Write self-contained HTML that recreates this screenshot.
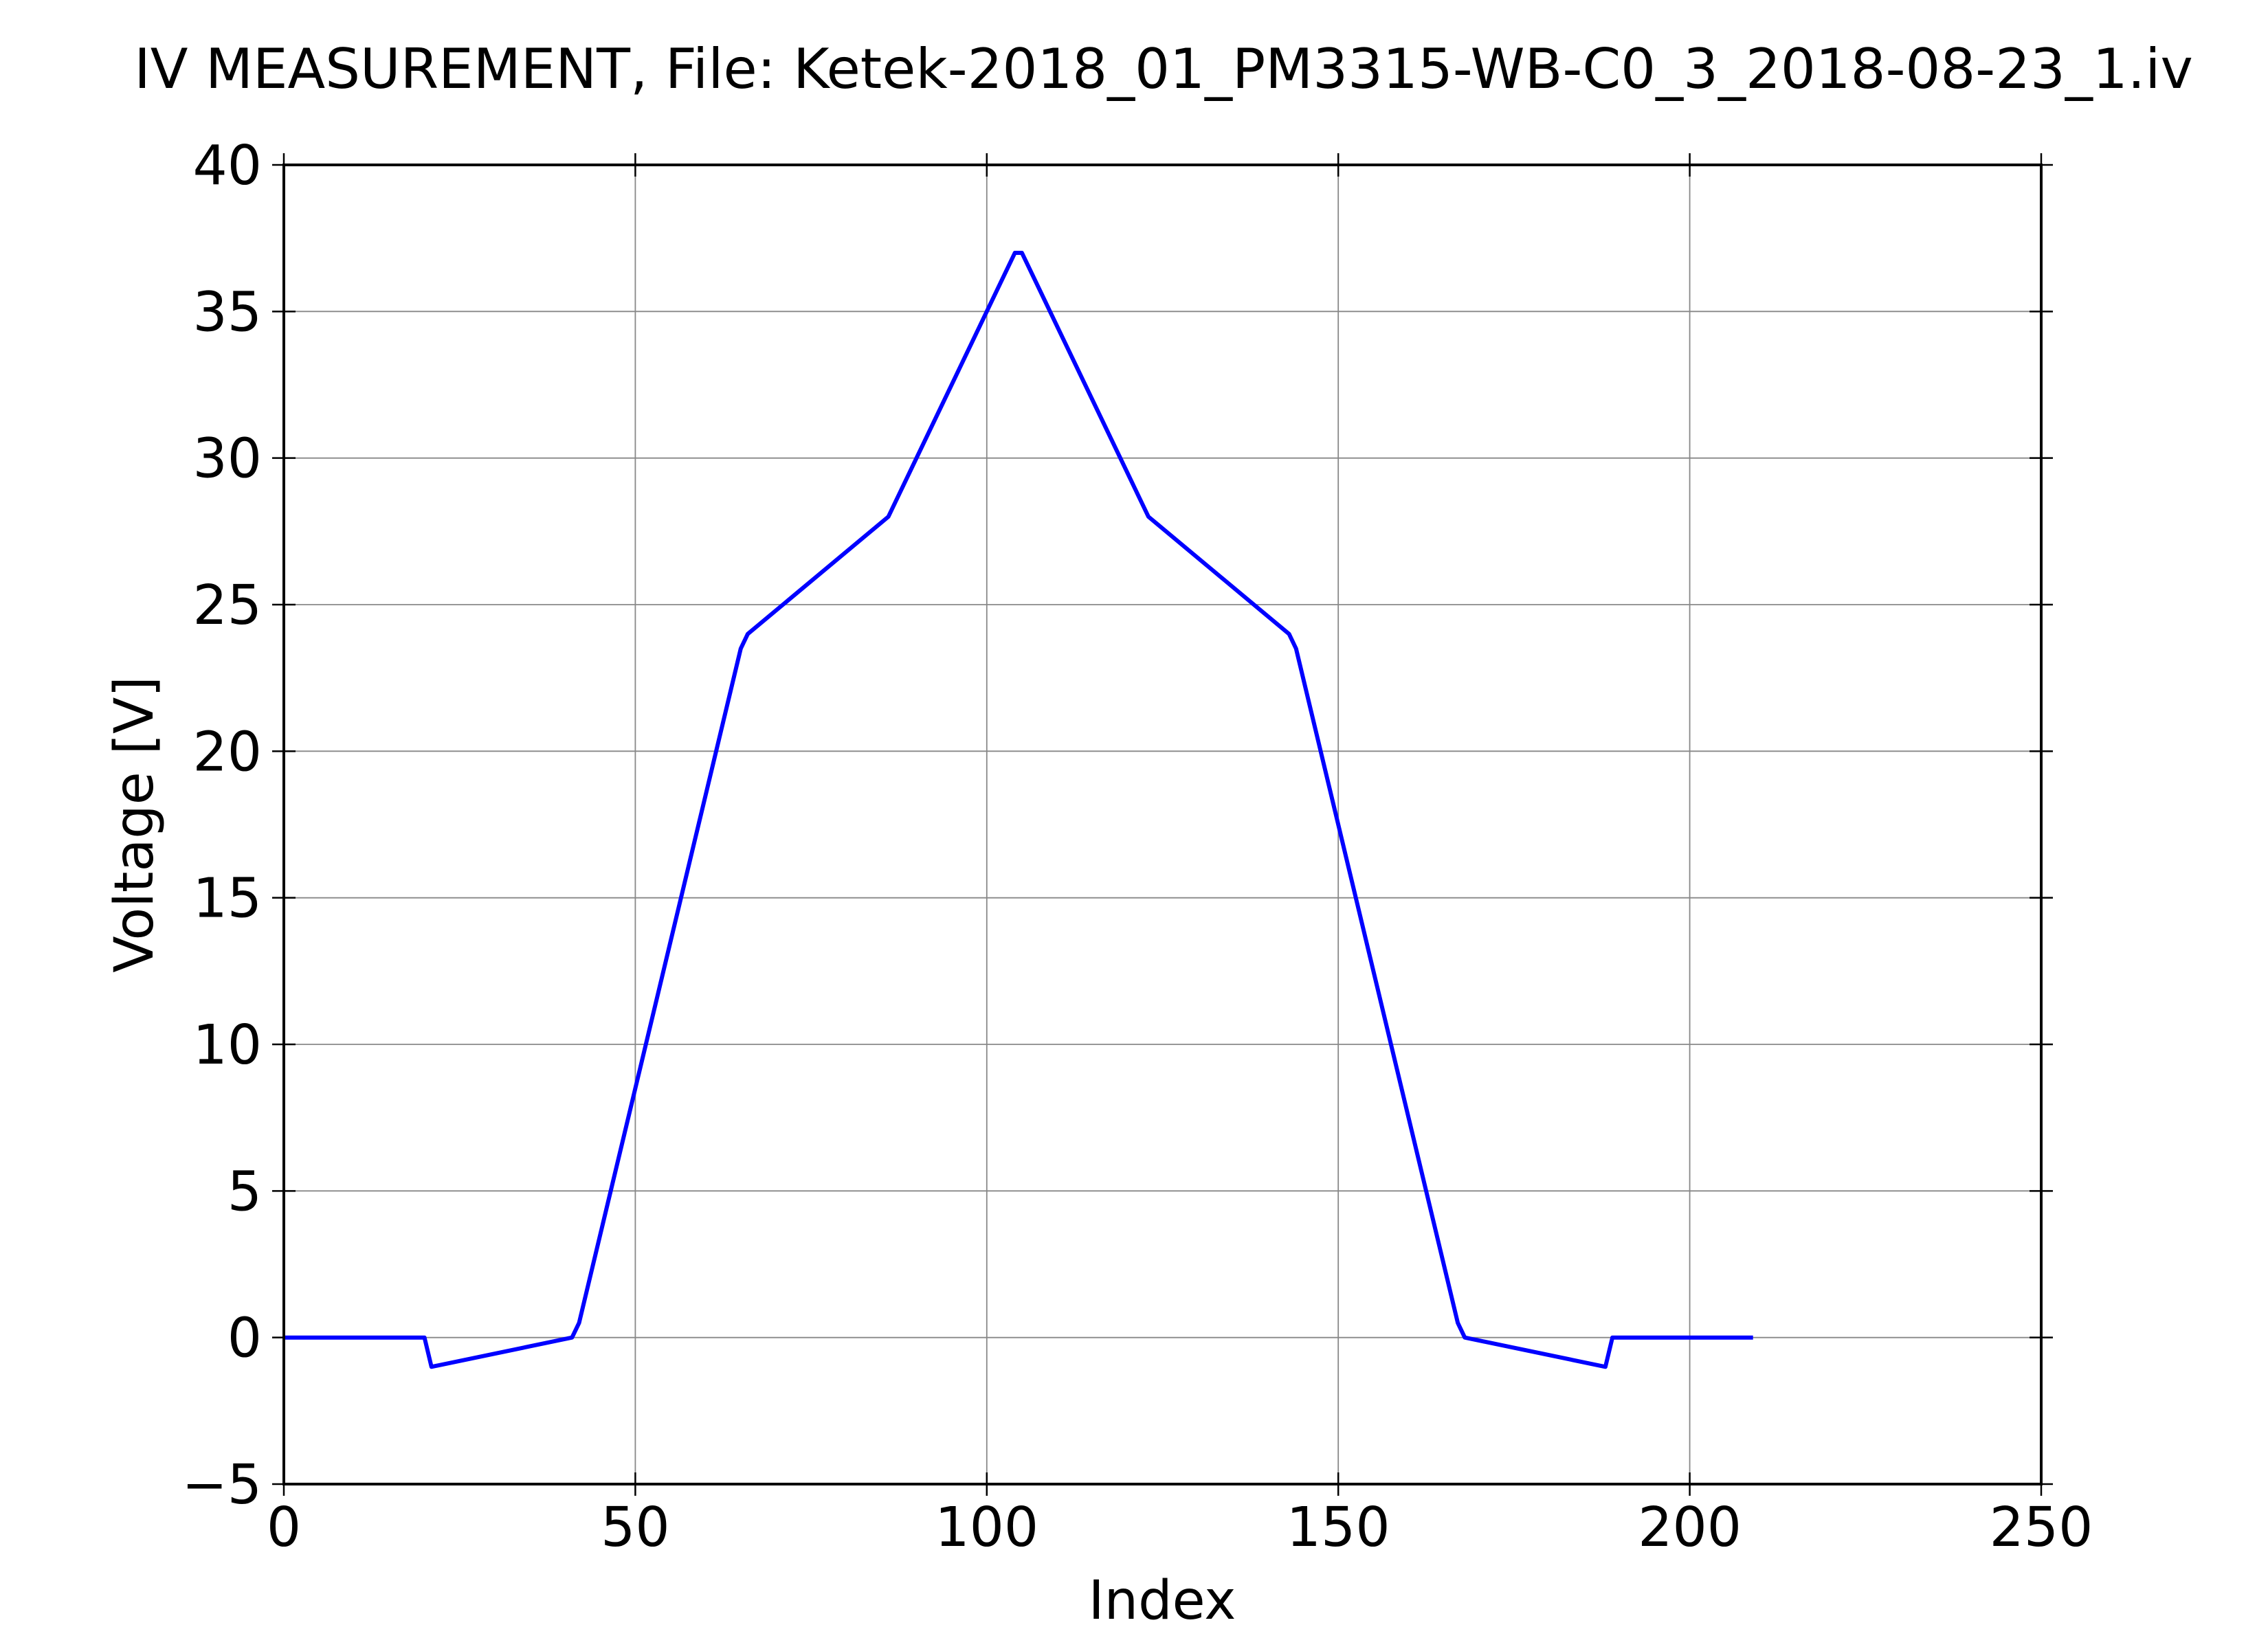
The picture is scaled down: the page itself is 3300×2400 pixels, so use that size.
<!DOCTYPE html>
<html><head><meta charset="utf-8"><style>
body{margin:0;background:#fff;}
svg{display:block;font-family:"DejaVu Sans","Liberation Sans",sans-serif;}
</style></head><body>
<svg id="chart" width="3300" height="2400" viewBox="0 0 3300 2400">
<rect width="3300" height="2400" fill="#fff"/>
<text x="1693" y="128" font-size="80" text-anchor="middle">IV MEASUREMENT, File: Ketek-2018_01_PM3315-WB-C0_3_2018-08-23_1.iv</text>
<g id="grid"></g>
<g id="ticks"></g>
<g id="series"></g>
<rect x="413" y="240" width="2557" height="1920" fill="none" stroke="#000" stroke-width="4"/>
<text x="1691" y="2356" font-size="78" text-anchor="middle">Index</text>
<text transform="translate(222,1200) rotate(-90)" font-size="78" text-anchor="middle">Voltage [V]</text>
</svg>
<script>
const xTicks = [0, 50, 100, 150, 200, 250];
const yTicks = [-5, 0, 5, 10, 15, 20, 25, 30, 35, 40];
const yTickLabels = ["\u22125", "0", "5", "10", "15", "20", "25", "30", "35", "40"];
const indexValues = [0, 20, 21, 41, 42, 65, 66, 86, 104, 105, 123, 143, 144, 167, 168, 188, 189, 209];
const voltageValues = [0, 0, -1, 0, 0.5, 23.5, 24, 28, 37, 37, 28, 24, 23.5, 0.5, 0, -1, 0, 0];

const L = 413, R = 2970, T = 240, B = 2160;
const xMin = 0, xMax = 250, yMin = -5, yMax = 40;
function sx(v){ return L + (v - xMin) / (xMax - xMin) * (R - L); }
function sy(v){ return B - (v - yMin) / (yMax - yMin) * (B - T); }
const NS = "http://www.w3.org/2000/svg";
const grid = document.getElementById('grid');
const ticks = document.getElementById('ticks');
function mk(tag, attrs, parent){
  const e = document.createElementNS(NS, tag);
  for (const k in attrs) e.setAttribute(k, attrs[k]);
  parent.appendChild(e);
  return e;
}
xTicks.forEach(function(t){
  const x = sx(t);
  const g = mk('line', {x1:x, x2:x, y1:T, y2:B, stroke:'#888', 'stroke-width':1.8}, grid);
  
  
  const a = mk('line', {x1:x, x2:x, y1:B-17, y2:B+17, stroke:'#000', 'stroke-width':2.5}, ticks);
  
  
  const b = mk('line', {x1:x, x2:x, y1:T-17, y2:T+17, stroke:'#000', 'stroke-width':2.5}, ticks);
  
  
  const tx = mk('text', {x:x, y:B+90, 'font-size':79, 'text-anchor':'middle'}, ticks);
  tx.textContent = String(t);
  
  
});
yTicks.forEach(function(t, i){
  const y = sy(t);
  const g = mk('line', {x1:L, x2:R, y1:y, y2:y, stroke:'#888', 'stroke-width':1.8}, grid);
  
  
  const a = mk('line', {x1:L-17, x2:L+17, y1:y, y2:y, stroke:'#000', 'stroke-width':2.5}, ticks);
  
  
  const b = mk('line', {x1:R-17, x2:R+17, y1:y, y2:y, stroke:'#000', 'stroke-width':2.5}, ticks);
  
  
  const tx = mk('text', {x:L-32, y:y+28, 'font-size':79, 'text-anchor':'end'}, ticks);
  tx.textContent = yTickLabels[i];
  
  
});
const pts = indexValues.map(function(v, i){ return sx(v).toFixed(1) + ',' + sy(voltageValues[i]).toFixed(1); }).join(' ');
const line = mk('polyline', {points:pts, fill:'none', stroke:'#0000ff', 'stroke-width':6, 'stroke-linejoin':'round'}, document.getElementById('series'));


</script>
</body></html>
